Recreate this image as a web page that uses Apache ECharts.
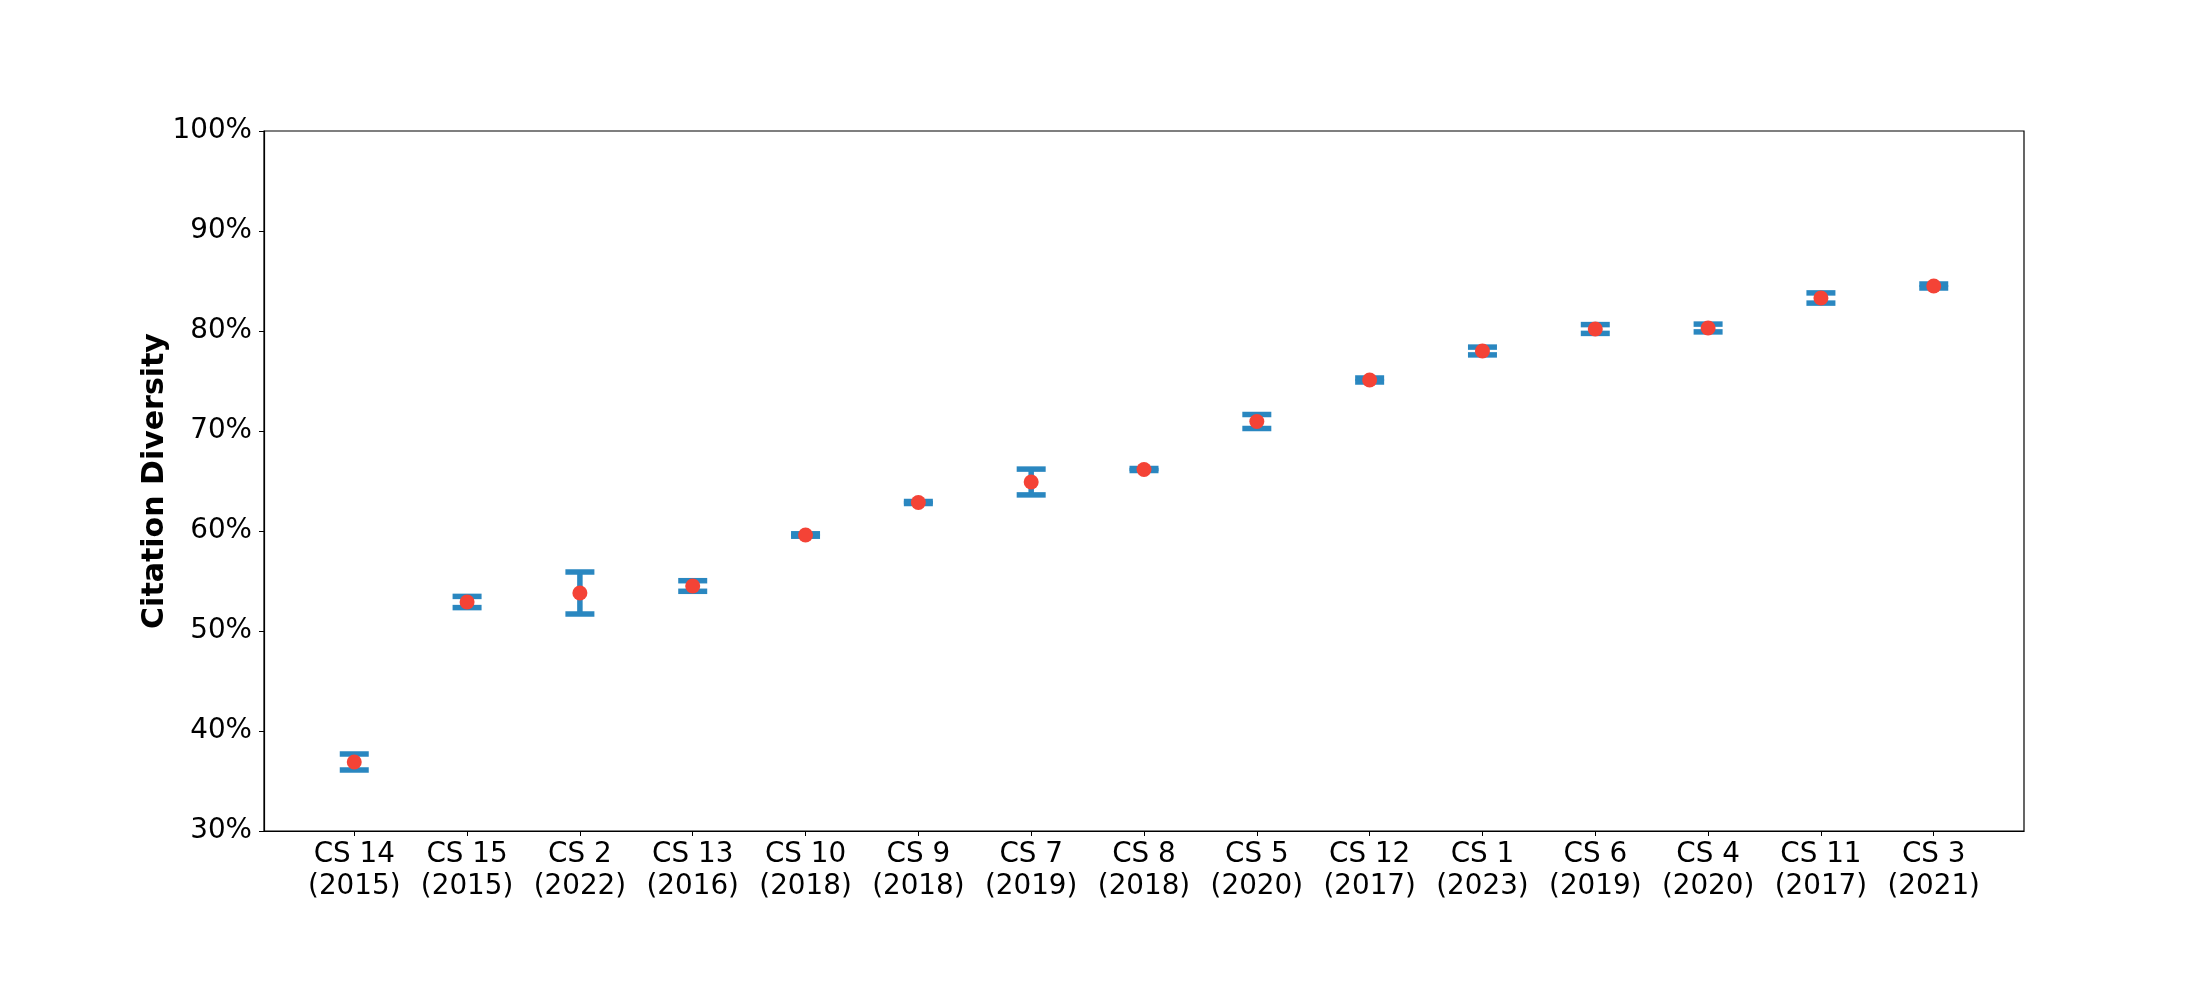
<!DOCTYPE html>
<html>
<head>
<meta charset="utf-8">
<script src="https://cdn.jsdelivr.net/npm/echarts@6/dist/echarts.min.js"></script>
<style>
  html, body { margin: 0; padding: 0; background: #fff; }
  #chart { width: 2200px; height: 1000px; }
</style>
</head>
<body>
<div id="chart"></div>
<script>
// data
const labels = ['CS 14\n(2015)', 'CS 15\n(2015)', 'CS 2\n(2022)', 'CS 13\n(2016)', 'CS 10\n(2018)',
  'CS 9\n(2018)', 'CS 7\n(2019)', 'CS 8\n(2018)', 'CS 5\n(2020)', 'CS 12\n(2017)',
  'CS 1\n(2023)', 'CS 6\n(2019)', 'CS 4\n(2020)', 'CS 11\n(2017)', 'CS 3\n(2021)'];
const means = [36.9, 52.9, 53.8, 54.5, 59.6, 62.85, 64.9, 66.15, 70.95, 75.1, 78.0, 80.2, 80.3, 83.3, 84.5];
const errors = [0.8, 0.56, 2.1, 0.53, 0.12, 0.1, 1.29, 0.1, 0.7, 0.2, 0.39, 0.44, 0.39, 0.51, 0.2];
const yTicks = [30, 40, 50, 60, 70, 80, 90, 100];

const FONT = 'DejaVu Sans';
const BLUE = '#2a87c0';
const RED = '#f44336';

const idx = labels.map((l, i) => i);
const points = means.map((m, i) => [i, m]);
const bars = means.map((m, i) => [i, m - errors[i], m + errors[i]]);

const chart = echarts.init(document.getElementById('chart'));

const option = {
  animation: false,
  backgroundColor: '#fff',
  grid: {
    left: 264,
    top: 131,
    width: 1760,
    height: 700,
    show: true,
    borderColor: '#000',
    borderWidth: 1.2,
  },
  xAxis: {
    type: 'value',
    min: -0.8,
    max: 14.8,
    splitLine: { show: false },
    axisLine: { onZero: false, lineStyle: { color: '#000', width: 1.2 } },
    axisTick: { customValues: idx, length: 5, lineStyle: { color: '#000' } },
    axisLabel: {
      customValues: idx,
      formatter: (v) => labels[Math.round(v)] || '',
      color: '#000',
      fontFamily: FONT,
      fontSize: 27.8,
      lineHeight: 32,
      margin: 8,
    },
  },
  yAxis: {
    type: 'value',
    min: 30,
    max: 100,
    interval: 10,
    name: 'Citation Diversity',
    nameLocation: 'middle',
    nameGap: 94,
    nameMoveOverlap: false,
    nameTextStyle: { fontFamily: FONT, fontSize: 30, fontWeight: 'bold', color: '#000' },
    splitLine: { show: false },
    axisLine: { show: true, onZero: false, lineStyle: { color: '#000', width: 1.2 } },
    axisTick: { show: true, length: 5, lineStyle: { color: '#000' } },
    axisLabel: {
      formatter: (v) => (yTicks.includes(v) ? v + '%' : ''),
      color: '#000',
      fontFamily: FONT,
      fontSize: 27.8,
      margin: 12,
    },
  },
  series: [
    {
      type: 'custom',
      data: bars,
      encode: { x: 0, y: [1, 2] },
      renderItem(params, api) {
        const x = api.value(0);
        const lo = api.coord([x, api.value(1)]);
        const hi = api.coord([x, api.value(2)]);
        const cap = 14.5;
        const style = { stroke: BLUE, lineWidth: 5.5, fill: null };
        return {
          type: 'group',
          children: [
            { type: 'line', shape: { x1: lo[0], y1: lo[1], x2: hi[0], y2: hi[1] }, style },
            { type: 'line', shape: { x1: lo[0] - cap, y1: lo[1], x2: lo[0] + cap, y2: lo[1] }, style },
            { type: 'line', shape: { x1: hi[0] - cap, y1: hi[1], x2: hi[0] + cap, y2: hi[1] }, style },
          ],
        };
      },
      z: 2,
    },
    {
      type: 'scatter',
      data: points,
      symbol: 'circle',
      symbolSize: 15,
      itemStyle: { color: RED, opacity: 1 },
      z: 3,
    },
  ],
};

chart.setOption(option);
</script>
</body>
</html>
